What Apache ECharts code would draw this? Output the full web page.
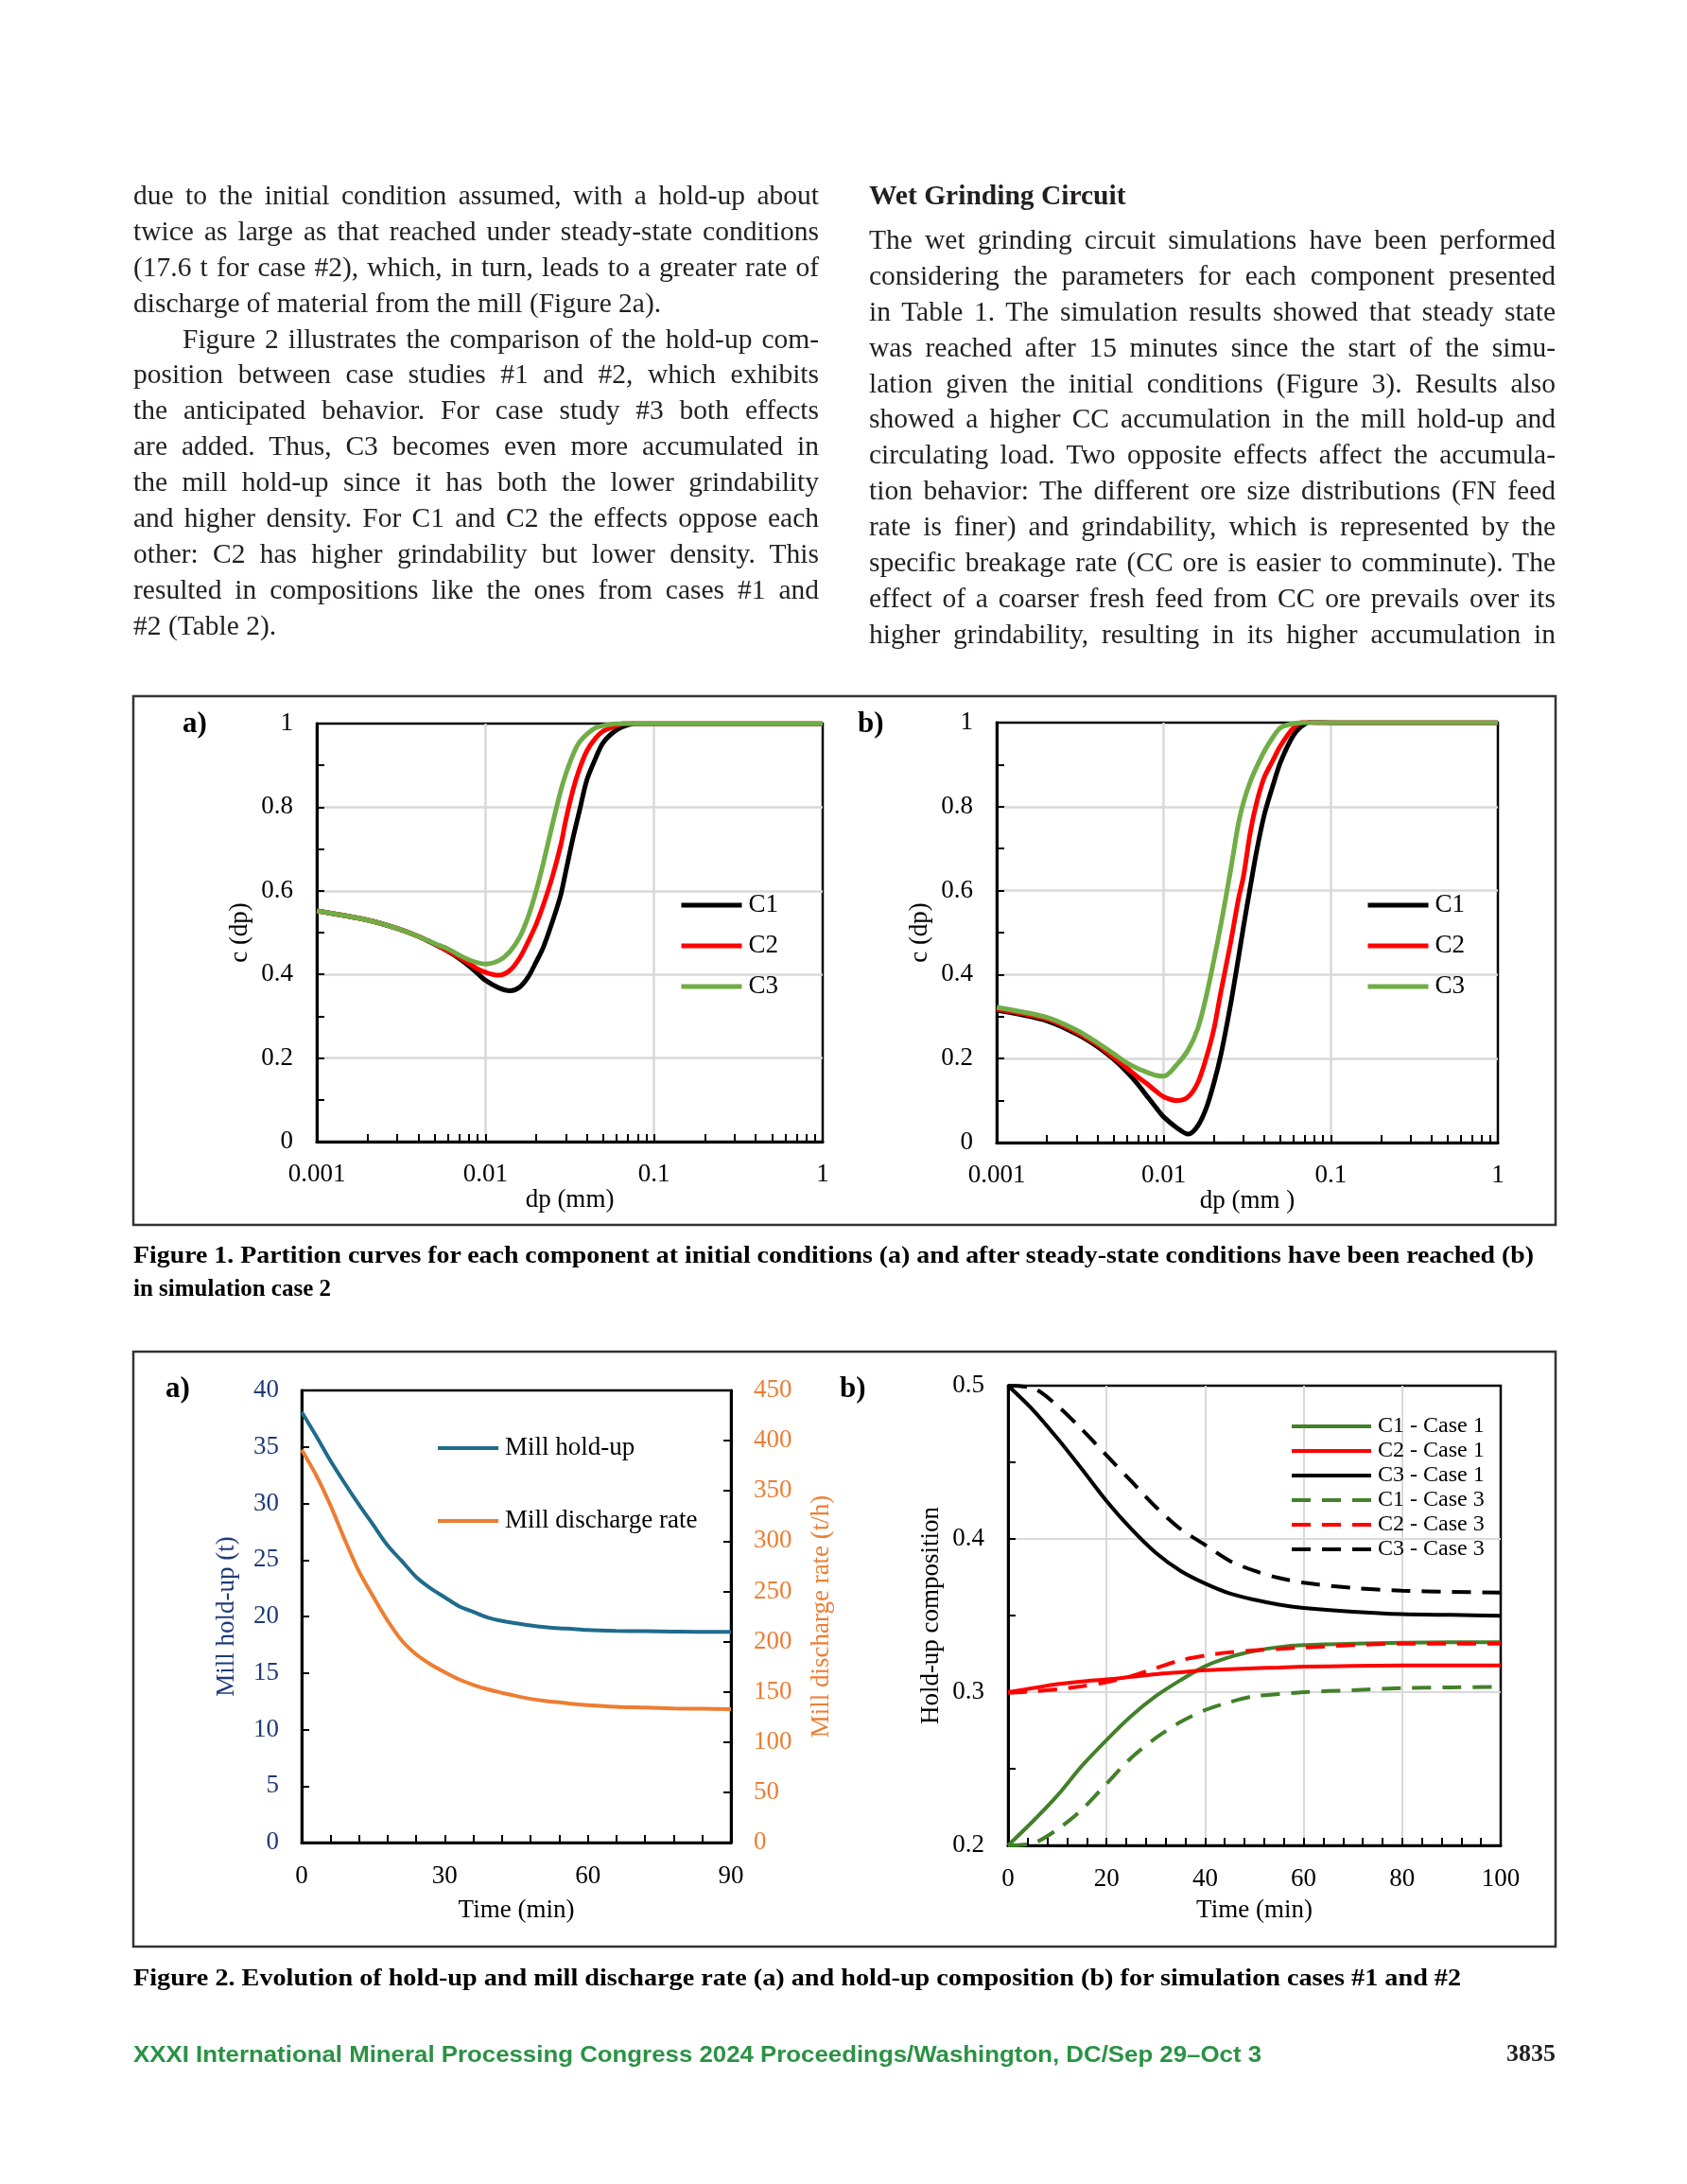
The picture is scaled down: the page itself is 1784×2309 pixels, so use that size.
<!DOCTYPE html>
<html>
<head>
<meta charset="utf-8">
<script src="https://cdn.jsdelivr.net/npm/echarts@6/dist/echarts.min.js"></script>
<style>
html,body{margin:0;padding:0;background:#fff;}
#page{position:relative;width:1784px;height:2309px;overflow:hidden;background:#fff;}
#chart{position:absolute;left:0;top:0;width:1784px;height:2309px;}
.col{position:absolute;font-family:'Liberation Serif',serif;font-size:29.5px;color:#231f20;}
.ln{height:37.9px;line-height:37.9px;white-space:nowrap;text-align:justify;text-align-last:justify;}
.ln.last{text-align:left;text-align-last:left;}
.ln.ind{padding-left:52px;}
.head{font-weight:bold;font-size:29.5px;height:47px;line-height:37.9px;}
.cap{position:absolute;left:141px;font-family:'Liberation Serif',serif;font-weight:bold;font-size:25px;color:#000;white-space:nowrap;transform-origin:0 50%;}
.foot{position:absolute;left:141px;top:2158px;font-family:'Liberation Sans',sans-serif;font-weight:bold;font-size:24px;color:#2a9244;white-space:nowrap;transform-origin:0 50%;}
.pnum{position:absolute;right:139px;top:2156px;font-family:'Liberation Serif',serif;font-weight:bold;font-size:26px;color:#231f20;}
</style>
</head>
<body>
<div id="page">
<div id="chart"></div>

<div class="col" style="left:141px;top:188px;width:725px;">
<div class="ln">due to the initial condition assumed, with a hold-up about</div>
<div class="ln">twice as large as that reached under steady-state conditions</div>
<div class="ln">(17.6 t for case #2), which, in turn, leads to a greater rate of</div>
<div class="ln last">discharge of material from the mill (Figure 2a).</div>
<div class="ln ind">Figure 2 illustrates the comparison of the hold-up com-</div>
<div class="ln">position between case studies #1 and #2, which exhibits</div>
<div class="ln">the anticipated behavior. For case study #3 both effects</div>
<div class="ln">are added. Thus, C3 becomes even more accumulated in</div>
<div class="ln">the mill hold-up since it has both the lower grindability</div>
<div class="ln">and higher density. For C1 and C2 the effects oppose each</div>
<div class="ln">other: C2 has higher grindability but lower density. This</div>
<div class="ln">resulted in compositions like the ones from cases #1 and</div>
<div class="ln last">#2 (Table 2).</div>
</div>

<div class="col" style="left:919px;top:188px;width:726px;">
<div class="head">Wet Grinding Circuit</div>
<div class="ln">The wet grinding circuit simulations have been performed</div>
<div class="ln">considering the parameters for each component presented</div>
<div class="ln">in Table 1. The simulation results showed that steady state</div>
<div class="ln">was reached after 15 minutes since the start of the simu-</div>
<div class="ln">lation given the initial conditions (Figure 3). Results also</div>
<div class="ln">showed a higher CC accumulation in the mill hold-up and</div>
<div class="ln">circulating load. Two opposite effects affect the accumula-</div>
<div class="ln">tion behavior: The different ore size distributions (FN feed</div>
<div class="ln">rate is finer) and grindability, which is represented by the</div>
<div class="ln">specific breakage rate (CC ore is easier to comminute). The</div>
<div class="ln">effect of a coarser fresh feed from CC ore prevails over its</div>
<div class="ln">higher grindability, resulting in its higher accumulation in</div>
</div>

<div class="cap" id="cap1a" data-w="1481" style="top:1313px;">Figure 1. Partition curves for each component at initial conditions (a) and after steady-state conditions have been reached (b)</div>
<div class="cap" id="cap1b" style="top:1348px;">in simulation case 2</div>
<div class="cap" id="cap2" data-w="1404" style="top:2077px;">Figure 2. Evolution of hold-up and mill discharge rate (a) and hold-up composition (b) for simulation cases #1 and #2</div>
<div class="foot" id="foot" data-w="1193">XXXI International Mineral Processing Congress 2024 Proceedings/Washington, DC/Sep 29–Oct 3</div>
<div class="pnum">3835</div>
</div>

<script>
// ---------------- DATA ----------------
// Figure 1: particle size (mm) and partition values
const dp = [0.001,0.002,0.003,0.004,0.005,0.006,0.007,0.008,0.009,0.01,0.012,0.014,0.016,0.018,0.02,0.022,0.025,0.028,0.03,0.033,0.036,0.04,0.045,0.05,0.06,0.07,0.08,0.1,0.2,0.5,1];
const c1Initial = [0.552,0.530,0.510,0.491,0.472,0.455,0.438,0.420,0.402,0.386,0.368,0.361,0.370,0.395,0.430,0.464,0.527,0.591,0.647,0.725,0.789,0.866,0.917,0.955,0.985,0.997,1,1,1,1,1];
const c2Initial = [0.552,0.530,0.510,0.491,0.473,0.456,0.441,0.426,0.413,0.405,0.398,0.410,0.440,0.480,0.520,0.565,0.635,0.710,0.770,0.840,0.890,0.935,0.965,0.982,0.995,1.003,1,1,1,1,1];
const c3Initial = [0.552,0.530,0.510,0.491,0.474,0.461,0.446,0.435,0.428,0.425,0.433,0.455,0.490,0.540,0.600,0.665,0.760,0.840,0.880,0.925,0.955,0.975,0.990,0.995,1,1,1,1,1,1,1];
const c1Steady = [0.315,0.290,0.259,0.229,0.199,0.169,0.139,0.109,0.083,0.061,0.035,0.020,0.040,0.083,0.143,0.210,0.324,0.440,0.514,0.610,0.695,0.781,0.850,0.906,0.971,0.997,1.002,1,1,1,1];
const c2Steady = [0.318,0.294,0.263,0.233,0.203,0.178,0.156,0.139,0.122,0.109,0.100,0.109,0.143,0.203,0.272,0.360,0.471,0.580,0.634,0.740,0.810,0.870,0.910,0.945,0.988,1.003,1,1,1,1,1];
const c3Steady = [0.322,0.298,0.268,0.238,0.212,0.190,0.176,0.167,0.160,0.158,0.186,0.221,0.272,0.350,0.436,0.520,0.643,0.760,0.810,0.860,0.895,0.932,0.965,0.988,0.998,1,1,1,1,1,1];
const logTicks = [0.001,0.002,0.003,0.004,0.005,0.006,0.007,0.008,0.009,0.01,0.02,0.03,0.04,0.05,0.06,0.07,0.08,0.09,0.1,0.2,0.3,0.4,0.5,0.6,0.7,0.8,0.9,1];

// Figure 2a: time (min), hold-up (t), discharge rate (t/h)
const timeA = [0,3,6,9,12,15,18,21,24,27,30,33,36,39,42,45,48,51,54,57,60,66,72,78,84,90];
const holdUp = [38.1,36.0,33.8,31.8,29.9,28.1,26.3,24.9,23.5,22.5,21.7,20.9,20.4,19.9,19.6,19.4,19.2,19.05,18.95,18.9,18.8,18.73,18.7,18.66,18.63,18.63];
const discharge = [391,366,336,302,270,244.8,221,201,187.4,177.5,169.6,162.4,156.9,152.5,149,145.8,143,141,139.5,137.9,136.7,135.1,134.3,133.5,133.1,132.7];

// Figure 2b: time (min), hold-up composition
const timeB = [0,5,10,15,20,25,30,35,40,45,50,55,60,70,80,90,100];
const c1Case1 = [0.2,0.2156,0.2325,0.2519,0.2688,0.2844,0.2974,0.3078,0.3169,0.3229,0.3268,0.3294,0.3307,0.3317,0.3322,0.3325,0.3325];
const c2Case1 = [0.3,0.3026,0.3052,0.3070,0.3083,0.3100,0.3117,0.3130,0.3143,0.3150,0.3156,0.3161,0.3166,0.3171,0.3174,0.3174,0.3174];
const c3Case1 = [0.5,0.4844,0.4657,0.4455,0.4247,0.4065,0.3909,0.3792,0.3709,0.3644,0.3603,0.3571,0.3550,0.3525,0.3509,0.3504,0.3499];
const c1Case3 = [0.2,0.2013,0.2104,0.2234,0.2403,0.2571,0.2701,0.2805,0.2883,0.2935,0.2974,0.2987,0.3000,0.3013,0.3026,0.3031,0.3034];
const c2Case3 = [0.2995,0.3005,0.3018,0.3039,0.3065,0.3104,0.3156,0.3208,0.3239,0.3260,0.3273,0.3282,0.3291,0.3307,0.3317,0.3317,0.3317];
const c3Case3 = [0.5,0.4985,0.4870,0.4714,0.4545,0.4377,0.4208,0.4065,0.3961,0.3857,0.3792,0.3745,0.3714,0.3680,0.3662,0.3655,0.3649];

// ---------------- CHART ----------------
const FONT = 'Liberation Serif';
const GRID_GRAY = '#d9d9d9';
const zip = (xs, ys) => xs.map((x, i) => [x, ys[i]]);
const lbl = (size, color) => ({fontFamily: FONT, fontSize: size, color: color || '#000'});
const axLine = {show: true, lineStyle: {color: '#000', width: 3}};
const tickIn = {show: true, inside: true, length: 8, lineStyle: {color: '#000', width: 2}};
const minorIn = (n) => ({show: true, splitNumber: n, length: 8, lineStyle: {color: '#000', width: 2}});
const gridSplit = (w) => ({show: true, showMinLine: false, showMaxLine: false, lineStyle: {color: GRID_GRAY, width: w}});

function logMain(gi, name) {
  return {type: 'log', logBase: 10, gridIndex: gi, min: 0.001, max: 1, position: 'bottom',
    name: name, nameLocation: 'middle', nameGap: 39, nameTextStyle: lbl(27),
    axisLine: axLine, axisTick: {show: false},
    axisLabel: Object.assign(lbl(27), {margin: 21, formatter: v => String(+(+v).toPrecision(6))}),
    splitLine: gridSplit(2.5)};
}
function logTicksAxis(gi) {
  return {type: 'log', logBase: 10, gridIndex: gi, min: 0.001, max: 1, position: 'bottom', offset: 0,
    axisLine: {show: false}, axisLabel: {show: false}, splitLine: {show: false},
    axisTick: Object.assign({}, tickIn, {customValues: logTicks})};
}
function partY(gi) {
  return {type: 'value', gridIndex: gi, min: 0, max: 1, interval: 0.2,
    name: 'c (dp)', nameLocation: 'middle', nameGap: 68, nameRotate: 90, nameTextStyle: lbl(27),
    axisLine: axLine, axisTick: tickIn, minorTick: minorIn(2),
    axisLabel: Object.assign(lbl(27), {margin: 25}),
    splitLine: gridSplit(2.5)};
}
function lineS(name, xi, yi, data, color, width, dashed) {
  return {name: name, type: 'line', xAxisIndex: xi, yAxisIndex: yi, data: data,
    showSymbol: false, symbol: 'none', smooth: 0.3, animation: false,
    lineStyle: {color: color, width: width, type: dashed ? [20, 12] : 'solid', cap: 'butt'},
    itemStyle: {color: color}, emphasis: {disabled: true}};
}
function legendOf(names, left, top, itemWidth, gap, size, lh, lw) {
  return {orient: 'vertical', left: left, top: top, padding: 0, itemWidth: itemWidth, itemHeight: 14, itemGap: gap,
    selectedMode: false, data: names, icon: 'inherit',
    itemStyle: {opacity: 0, borderWidth: 0},
    lineStyle: {width: lw},
    textStyle: Object.assign(lbl(size), {lineHeight: lh, padding: [0, 0, 0, 2]})};
}

const chart = echarts.init(document.getElementById('chart'), null, {renderer: 'canvas'});
const gridBox = {show: true, borderColor: '#000', borderWidth: 2.5, backgroundColor: 'transparent'};

const option = {
  animation: false,
  backgroundColor: 'transparent',
  grid: [
    Object.assign({left: 335, top: 765, width: 535, height: 442}, gridBox),
    Object.assign({left: 1054, top: 764, width: 530, height: 444}, gridBox),
    Object.assign({left: 319, top: 1470, width: 454, height: 478}, gridBox),
    Object.assign({left: 1066, top: 1465, width: 521, height: 486}, gridBox)
  ],
  xAxis: [
    logMain(0, 'dp (mm)'),
    logTicksAxis(0),
    logMain(1, 'dp (mm )'),
    logTicksAxis(1),
    {type: 'value', gridIndex: 2, min: 0, max: 90, interval: 30,
      name: 'Time (min)', nameLocation: 'middle', nameGap: 58, nameTextStyle: lbl(27),
      axisLine: axLine, axisTick: tickIn, minorTick: minorIn(5),
      axisLabel: Object.assign(lbl(27), {margin: 22}), splitLine: {show: false}},
    {type: 'value', gridIndex: 3, min: 0, max: 100, interval: 20,
      name: 'Time (min)', nameLocation: 'middle', nameGap: 55, nameTextStyle: lbl(27),
      axisLine: axLine, axisTick: tickIn, minorTick: minorIn(5),
      axisLabel: Object.assign(lbl(27), {margin: 22}),
      splitLine: gridSplit(2)}
  ],
  yAxis: [
    partY(0),
    partY(1),
    {type: 'value', gridIndex: 2, min: 0, max: 40, interval: 5, position: 'left',
      name: 'Mill hold-up (t)', nameLocation: 'middle', nameGap: 66, nameRotate: 90, nameTextStyle: lbl(27, '#1f3a78'),
      axisLine: axLine, axisTick: tickIn,
      axisLabel: Object.assign(lbl(27, '#1f3a78'), {margin: 24}), splitLine: {show: false}},
    {type: 'value', gridIndex: 2, min: 0, max: 450, interval: 50, position: 'right',
      name: 'Mill discharge rate (t/h)', nameLocation: 'middle', nameGap: 82, nameRotate: 90, nameTextStyle: lbl(27, '#ed7d31'),
      axisLine: axLine, axisTick: tickIn,
      axisLabel: Object.assign(lbl(27, '#ed7d31'), {margin: 24}), splitLine: {show: false}},
    {type: 'value', gridIndex: 3, min: 0.2, max: 0.5, interval: 0.1,
      name: 'Hold-up composition', nameLocation: 'middle', nameGap: 68, nameRotate: 90, nameTextStyle: lbl(27),
      axisLine: axLine, axisTick: tickIn, minorTick: minorIn(2),
      axisLabel: Object.assign(lbl(27), {margin: 25}),
      splitLine: gridSplit(2)}
  ],
  legend: [
    legendOf(['C1', 'C2', 'C3'], 718, 942, 64, 13, 27, 30, 5),
    legendOf(['C1', 'C2', 'C3'], 1444, 942, 64, 13, 27, 30, 5),
    legendOf(['Mill hold-up', 'Mill discharge rate'], 461, 1516, 64, 47, 27, 30, 4),
    legendOf(['C1 - Case 1', 'C2 - Case 1', 'C3 - Case 1', 'C1 - Case 3', 'C2 - Case 3', 'C3 - Case 3'], 1364, 1496, 84, 2, 24, 24, 4)
  ],
  graphic: [
    {type: 'rect', shape: {x: 141, y: 736, width: 1504, height: 559}, style: {fill: 'none', stroke: '#333', lineWidth: 2.5}, z: -1},
    {type: 'rect', shape: {x: 141, y: 1429, width: 1504, height: 629}, style: {fill: 'none', stroke: '#333', lineWidth: 2.5}, z: -1},
    {type: 'text', left: 193, top: 750, style: {text: 'a)', font: 'bold 31px "Liberation Serif"', fill: '#000'}},
    {type: 'text', left: 907, top: 750, style: {text: 'b)', font: 'bold 31px "Liberation Serif"', fill: '#000'}},
    {type: 'text', left: 175, top: 1453, style: {text: 'a)', font: 'bold 31px "Liberation Serif"', fill: '#000'}},
    {type: 'text', left: 888, top: 1453, style: {text: 'b)', font: 'bold 31px "Liberation Serif"', fill: '#000'}}
  ],
  series: [
    lineS('C1', 0, 0, zip(dp, c1Initial), '#000000', 5),
    lineS('C2', 0, 0, zip(dp, c2Initial), '#ff0000', 5),
    lineS('C3', 0, 0, zip(dp, c3Initial), '#70ad47', 5),
    lineS('C1', 2, 1, zip(dp, c1Steady), '#000000', 5),
    lineS('C2', 2, 1, zip(dp, c2Steady), '#ff0000', 5),
    lineS('C3', 2, 1, zip(dp, c3Steady), '#70ad47', 5),
    lineS('Mill hold-up', 4, 2, zip(timeA, holdUp), '#1f6b8c', 4),
    lineS('Mill discharge rate', 4, 3, zip(timeA, discharge), '#ed7d31', 4),
    lineS('C1 - Case 1', 5, 4, zip(timeB, c1Case1), '#43802a', 4),
    lineS('C2 - Case 1', 5, 4, zip(timeB, c2Case1), '#ff0000', 4),
    lineS('C3 - Case 1', 5, 4, zip(timeB, c3Case1), '#000000', 4),
    lineS('C1 - Case 3', 5, 4, zip(timeB, c1Case3), '#43802a', 4, true),
    lineS('C2 - Case 3', 5, 4, zip(timeB, c2Case3), '#ff0000', 4, true),
    lineS('C3 - Case 3', 5, 4, zip(timeB, c3Case3), '#000000', 4, true)
  ]
};
chart.setOption(option);

// fit caption / footer widths to the reference line lengths
document.querySelectorAll('[data-w]').forEach(el => {
  const target = +el.getAttribute('data-w');
  const w = el.getBoundingClientRect().width;
  if (w > 0) el.style.transform = 'scaleX(' + (target / w).toFixed(4) + ')';
});
// keep every justified body line inside its column
const mctx = document.createElement('canvas').getContext('2d');
document.querySelectorAll('.ln').forEach(el => {
  const cs = getComputedStyle(el);
  mctx.font = cs.fontWeight + ' ' + cs.fontSize + ' ' + cs.fontFamily;
  const natural = mctx.measureText(el.textContent).width;
  const avail = el.clientWidth - parseFloat(cs.paddingLeft) - parseFloat(cs.paddingRight);
  if (natural > avail - 4) {
    const n = Math.max(1, el.textContent.length - 1);
    el.style.letterSpacing = ((avail - 4 - natural) / n).toFixed(3) + 'px';
  }
});
</script>
</body>
</html>
